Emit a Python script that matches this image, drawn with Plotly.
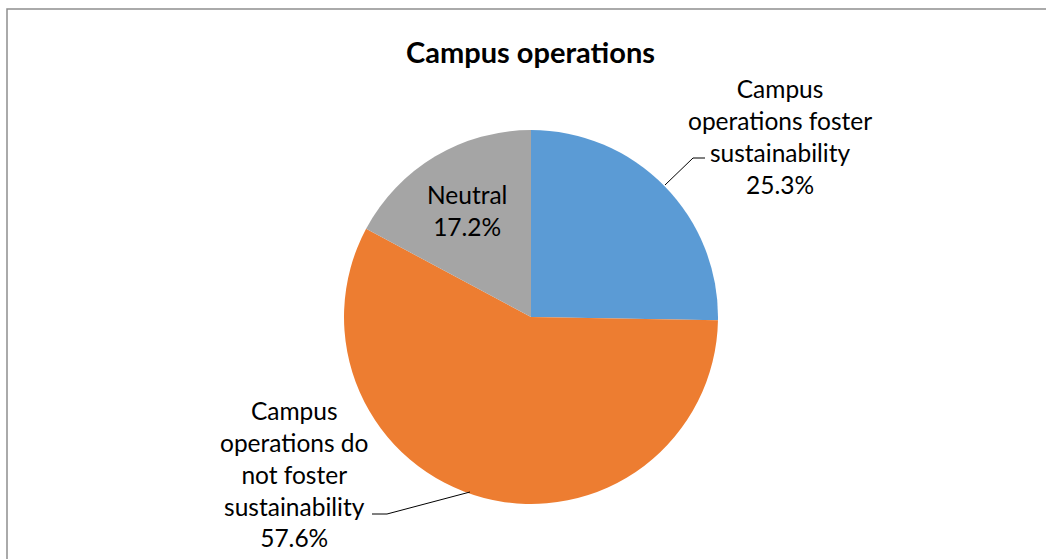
import plotly.graph_objects as go

W, H = 1046, 559

labels = ["Campus operations foster sustainability",
          "Campus operations do not foster sustainability",
          "Neutral"]
values = [25.3, 57.6, 17.2]
label_lines = [["Campus", "operations foster", "sustainability"],
               ["Campus", "operations do", "not foster", "sustainability"],
               ["Neutral"]]
colors = ["#5B9BD5", "#ED7D31", "#A5A5A5"]
title = "Campus operations"

FONT = "Lato"

def px(x):
    return x / W

def py(y):
    return 1 - y / H

cx, cy, r = 531, 317, 187

fig = go.Figure(go.Pie(
    labels=labels, values=values, sort=False, direction="clockwise",
    rotation=0, textinfo="none", hoverinfo="label+percent",
    marker=dict(colors=colors, line=dict(width=0)),
    domain=dict(x=[px(cx - r), px(cx + r)], y=[py(cy + r), py(cy - r)]),
    showlegend=False,
))

def label_text(i):
    return "<br>".join(label_lines[i] + [f"{values[i]:.1f}%"])

# label centres (pixels)
label_pos = [(780, 137), (294, 474), (467, 210)]
for i, (lx, ly) in enumerate(label_pos):
    fig.add_annotation(x=px(lx), y=py(ly), xref="paper", yref="paper",
                       text=label_text(i), showarrow=False,
                       font=dict(family=FONT, size=24.5, color="#000000"),
                       xanchor="center", yanchor="middle", align="center")

# leader lines
leaders = [
    [(665, 185), (693, 158), (705, 158)],
    [(470, 492), (387, 514), (372, 514)],
]
for pts in leaders:
    path = "M " + " L ".join(f"{px(x)},{py(y)}" for x, y in pts)
    fig.add_shape(type="path", path=path, xref="paper", yref="paper",
                  line=dict(color="#000000", width=1))

# chart border
fig.add_shape(type="rect", xref="paper", yref="paper",
              x0=px(7), y0=py(H + 10), x1=px(W + 10), y1=py(9),
              line=dict(color="#8E8E8E", width=1.5))

fig.add_annotation(x=px(530), y=py(52), xref="paper", yref="paper",
                   text="<b>" + title + "</b>", showarrow=False,
                   font=dict(family=FONT, size=29, color="#000000"),
                   xanchor="center", yanchor="middle")

fig.update_layout(width=W, height=H, margin=dict(l=0, r=0, t=0, b=0),
                  paper_bgcolor="white", plot_bgcolor="white")

fig.write_html("out.html", config={"displayModeBar": False},
               post_script="document.body.style.margin='0';document.body.style.overflow='hidden';")
